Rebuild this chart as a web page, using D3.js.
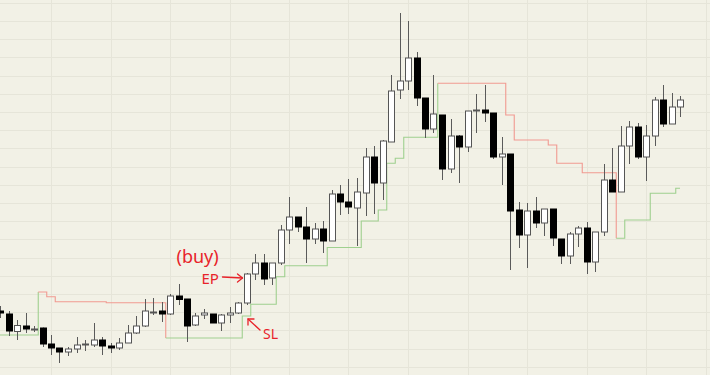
<!DOCTYPE html>
<html>
<head>
<meta charset="utf-8">
<script src="https://cdn.jsdelivr.net/npm/d3@7"></script>
<style>
  html, body { margin: 0; padding: 0; background: #f2f1e6; }
  svg { display: block; }
</style>
</head>
<body>
<svg id="chart" width="710" height="375"></svg>
<script>
// daily candles
const open = [8.9, 8.6, 6.85, 7.4, 7.05, 7.2, 5.6, 5.2, 4.8, 5.1, 5.5, 5.5, 6.0, 5.4, 5.2, 5.7, 6.7, 7.4, 8.7, 8.9,
  8.6, 10.4, 10.1, 7.5, 8.5, 8.6, 7.7, 8.5, 8.7, 9.7, 12.6, 13.7, 12.2, 13.7, 17.0, 18.3, 17.3, 16.1, 17.1, 15.9,
  20.6, 19.8, 19.2, 20.7, 24.3, 21.7, 25.8, 31.0, 31.9, 34.2, 30.2, 27.1, 28.5, 23.1, 26.4, 25.3, 28.9, 29.0, 28.7, 24.3,
  24.6, 19.0, 16.5, 18.9, 17.7, 19.1, 16.1, 14.4, 16.6, 17.2, 13.8, 16.8, 22.0, 20.8, 25.4, 27.3, 24.3, 26.4, 30.0, 27.6, 29.3];
const high = [9.4, 8.9, 8.0, 8.7, 7.4, 7.25, 6.5, 5.2, 5.3, 6.3, 6.0, 7.7, 6.3, 5.7, 6.2, 7.5, 8.4, 10.1, 10.2, 9.8,
  10.6, 11.6, 10.1, 8.7, 9.1, 8.6, 8.6, 9.3, 9.8, 12.7, 14.6, 14.6, 13.7, 17.5, 20.3, 18.3, 19.3, 17.7, 17.9, 21.0,
  21.5, 22.1, 22.2, 25.2, 25.4, 26.0, 32.5, 38.7, 37.9, 34.8, 30.2, 32.5, 28.5, 28.1, 26.5, 28.9, 30.6, 31.5, 28.7, 26.3,
  24.6, 19.8, 19.7, 20.3, 19.1, 19.1, 16.1, 16.8, 17.4, 17.8, 16.8, 23.6, 25.2, 27.4, 27.9, 27.7, 27.5, 30.3, 31.5, 30.7, 30.4];
const low = [8.2, 6.4, 6.0, 6.7, 6.8, 5.3, 4.5, 3.7, 4.4, 4.7, 4.9, 5.3, 4.5, 4.7, 5.0, 5.7, 6.6, 7.3, 8.5, 7.8,
  8.5, 9.5, 5.8, 7.4, 8.1, 7.7, 6.9, 7.7, 8.6, 9.5, 12.0, 11.5, 11.5, 13.5, 15.6, 16.8, 13.7, 15.6, 14.7, 15.9,
  18.5, 18.6, 15.4, 18.4, 18.6, 20.0, 25.8, 30.1, 31.0, 29.4, 26.2, 26.7, 22.0, 22.7, 21.7, 24.8, 26.7, 27.8, 24.1, 21.5,
  13.0, 15.2, 13.2, 17.2, 16.4, 15.4, 13.6, 13.6, 15.3, 12.6, 12.8, 16.4, 20.8, 20.8, 23.6, 24.1, 21.9, 25.4, 27.3, 27.6, 28.3];
const close = [8.7, 6.9, 7.45, 7.1, 7.1, 5.6, 5.2, 4.8, 5.1, 5.5, 5.6, 6.0, 5.4, 5.2, 5.7, 6.7, 7.4, 8.9, 8.8, 8.6,
  10.4, 10.05, 7.4, 8.4, 8.7, 7.7, 8.5, 8.7, 9.7, 12.6, 13.7, 12.1, 13.7, 17.0, 18.3, 17.3, 16.1, 17.1, 15.9, 20.6,
  19.8, 19.3, 20.8, 24.3, 21.7, 25.9, 30.9, 31.9, 34.2, 30.2, 27.1, 28.6, 23.1, 26.4, 25.3, 28.9, 29.0, 28.7, 24.3, 24.6,
  18.9, 16.5, 18.9, 17.7, 19.1, 16.2, 14.4, 16.6, 17.2, 13.8, 16.8, 22.0, 20.8, 25.4, 27.3, 24.3, 26.4, 30.0, 27.6, 29.3, 30.0];

// trailing stop level per candle and its side (U = long / below price, D = short / above price)
const stop = [6.5, 6.5, 6.5, 6.5, 6.5, 10.8, 10.33, 9.83, 9.83, 9.83, 9.83, 9.83, 9.83, 9.73, 9.73, 9.73, 9.73, 9.73, 9.73, 9.73,
  6.2, 6.2, 6.2, 6.2, 6.2, 6.2, 6.2, 6.2, 6.2, 8.4, 9.57, 9.57, 9.57, 12.33, 13.43, 13.43, 13.43, 13.43, 13.43, 15.25,
  15.25, 15.25, 15.25, 17.9, 17.9, 19.0, 23.67, 24.17, 26.27, 26.27, 26.27, 26.27, 31.67, 31.67, 31.67, 31.67, 31.67, 31.67, 31.67, 31.67,
  28.5, 26.0, 26.0, 26.0, 26.0, 25.5, 23.67, 23.67, 23.67, 22.73, 22.73, 22.73, 22.73, 16.17, 18.0, 18.0, 18.0, 20.67, 20.67, 20.67, 21.17];
const trend = "UUUUUDDDDDDDDDDDDDDDUUUUUUUUUUUUUUUUUUUUUUUUUUUUUUUUDDDDDDDDDDDDDDDDDDDDDUUUUUUUU".split("");

// price grid lines (chart has no labels)
const gridPrices = d3.range(39.73, 3, -1.82);
const gridCandles = d3.range(6, 84, 7);

const W = 710, H = 375;
const n = close.length;
const svg = d3.select("#chart");

const x = d3.scaleLinear().domain([0, n - 1]).range([0, 680]);
const y = d3.scaleLinear().domain([2.5, 40]).range([H, 0]);
const bodyW = 6;

svg.append("rect").attr("width", W).attr("height", H).attr("fill", "#f2f1e6");

// grid
const grid = svg.append("g").attr("stroke", "#e6e5d9").attr("stroke-width", 1).attr("shape-rendering", "crispEdges");
grid.selectAll(".h").data(gridPrices).join("line")
  .attr("x1", 0).attr("x2", W)
  .attr("y1", d => Math.round(y(d)) + 0.5).attr("y2", d => Math.round(y(d)) + 0.5);
grid.selectAll(".v").data(gridCandles).join("line")
  .attr("y1", 0).attr("y2", H)
  .attr("x1", d => Math.round(x(d)) + 0.5).attr("x2", d => Math.round(x(d)) + 0.5);

// stop line, one path per run so the colour changes with the side
const runs = [];
let cur = null;
trend.forEach((t, i) => {
  if (!cur || cur.t !== t) { cur = { t: t, idx: [] }; runs.push(cur); }
  cur.idx.push(i);
});
const line = d3.line();
runs.forEach(r => {
  const pts = [];
  r.idx.forEach(i => {
    const l = i === 0 ? x(0) : x(i - 0.5);
    const rr = i === n - 1 ? x(n - 1) : x(i + 0.5);
    pts.push([l, y(stop[i])], [rr, y(stop[i])]);
  });
  const last = r.idx[r.idx.length - 1];
  if (last < n - 1) pts.push([x(last + 0.5), y(stop[last + 1])]);
  svg.append("path")
    .attr("d", line(pts))
    .attr("fill", "none")
    .attr("stroke", r.t === "U" ? "#9fd08f" : "#f19a91")
    .attr("stroke-width", 1.1);
});

// candles
const candles = svg.append("g").selectAll("g").data(d3.range(n)).join("g");
candles.append("line")
  .attr("x1", i => Math.round(x(i)) + 0.5).attr("x2", i => Math.round(x(i)) + 0.5)
  .attr("y1", i => y(high[i])).attr("y2", i => y(low[i]))
  .attr("stroke", "#5a5a5a").attr("stroke-width", 1);
candles.append("rect")
  .attr("x", i => Math.round(x(i)) + 0.5 - bodyW / 2)
  .attr("y", i => y(Math.max(open[i], close[i])))
  .attr("width", bodyW)
  .attr("height", i => Math.max(1, Math.abs(y(open[i]) - y(close[i]))))
  .attr("fill", i => close[i] >= open[i] ? "#ffffff" : "#000000")
  .attr("stroke", i => close[i] >= open[i] ? "#555555" : "#000000")
  .attr("stroke-width", 1);

// hand-drawn notes
const red = "#e8232a";
const note = svg.append("g").attr("fill", red).style("font-family", "'Noto Sans', sans-serif");
const epTip = [x(29) - 4, y(12.2)];
const slTip = [x(29) + 1.5, y(stop[29]) + 3];

note.append("text").attr("x", epTip[0] - 66).attr("y", epTip[1] - 15)
  .attr("font-size", 18).text("(buy)");
note.append("text").attr("x", epTip[0] - 41).attr("y", epTip[1] + 6)
  .attr("font-size", 15).text("EP");
note.append("text").attr("x", slTip[0] + 15).attr("y", slTip[1] + 20)
  .attr("font-size", 14).text("SL");

const arrows = svg.append("g").attr("fill", "none").attr("stroke", red).attr("stroke-width", 1.3)
  .attr("stroke-linecap", "round").attr("stroke-linejoin", "round");
arrows.append("path").attr("d", line([[epTip[0] - 20, epTip[1] - 1], epTip]));
arrows.append("path").attr("d", line([[epTip[0] - 5, epTip[1] - 4], epTip, [epTip[0] - 5, epTip[1] + 4]]));
arrows.append("path").attr("d", line([[slTip[0] + 12, slTip[1] + 11], slTip]));
arrows.append("path").attr("d", line([[slTip[0], slTip[1] + 6], slTip, [slTip[0] + 6, slTip[1]]]));
</script>
</body>
</html>
